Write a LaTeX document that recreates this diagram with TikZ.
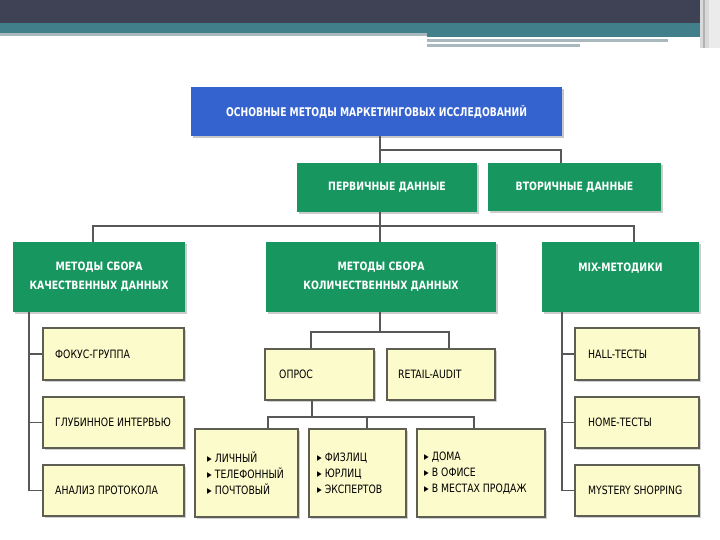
\documentclass[tikz,border=0pt]{standalone}
\usepackage{fontspec}
\setmainfont{DejaVu Sans Condensed}
\newfontfamily\hdrfont{DejaVu Sans Condensed}[FakeStretch=0.85]
\newfontfamily\grnfont{DejaVu Sans Condensed}[FakeStretch=0.9]
\newfontfamily\yelfont{DejaVu Sans Condensed}[FakeStretch=0.9]
\usetikzlibrary{shadows}
\definecolor{hdark}{HTML}{3E4254}
\definecolor{hteal}{HTML}{41808A}
\definecolor{hgrey}{HTML}{A8B8BC}
\definecolor{cblue}{HTML}{3462CF}
\definecolor{cgreen}{HTML}{17975F}
\definecolor{cyel}{HTML}{FCFBCB}
\definecolor{cline}{HTML}{585858}
\definecolor{cbord}{HTML}{5E5E52}
\tikzset{
  bluebox/.style={fill=cblue, minimum width=#1, inner sep=0pt,
    drop shadow={shadow xshift=2pt, shadow yshift=-2pt, fill=black!22, opacity=1},
    text=white, font=\hdrfont\bfseries\fontsize{12}{14}\selectfont},
  greenbox/.style={fill=cgreen, minimum width=#1, inner sep=0pt, align=center,
    drop shadow={shadow xshift=2pt, shadow yshift=-2pt, fill=black!20, opacity=1},
    text=white, font=\grnfont\bfseries\fontsize{11.5}{19}\selectfont},
  yelbox/.style={fill=cyel, draw=cbord, line width=1.1pt, minimum width=#1, inner sep=0pt,
    drop shadow={shadow xshift=2pt, shadow yshift=-2pt, fill=black!18, opacity=1}},
  ytext/.style={anchor=west, align=left, inner sep=0pt, font=\yelfont\fontsize{11.5}{16}\selectfont},
  conn/.style={draw=cline, line width=1.4pt},
}
\begin{document}
\begin{tikzpicture}[x=1pt,y=-1pt]
\useasboundingbox (0,0) rectangle (720,540);
% header band
\fill[hdark] (0,0) rectangle (700,23);
\fill[hteal] (0,23) rectangle (700,33);
\fill[hgrey] (0,33) rectangle (427,36);
\fill[hteal] (427,33) rectangle (700,37);
\fill[hgrey] (427,39.5) rectangle (668,42.5);
\fill[hgrey] (427,44) rectangle (580,47);
\fill[black!15] (700,0) rectangle (720,48);
\fill[black!30] (703,0) rectangle (705,48);
\fill[black!8] (709,0) rectangle (720,48);

% level 1/2
\node[bluebox=371pt, minimum height=49pt] (top) at (376.5,111.5) {ОСНОВНЫЕ МЕТОДЫ МАРКЕТИНГОВЫХ ИССЛЕДОВАНИЙ};
\node[greenbox=180pt, minimum height=49pt] (prim) at (387,187.5) {ПЕРВИЧНЫЕ ДАННЫЕ};
\node[greenbox=173pt, minimum height=48pt] (sec) at (574.5,187) {ВТОРИЧНЫЕ ДАННЫЕ};

% level 3
\node[greenbox=172pt, minimum height=70pt] (qual) at (99,277) {МЕТОДЫ СБОРА\\КАЧЕСТВЕННЫХ ДАННЫХ};
\node[greenbox=230pt, minimum height=70pt] (quant) at (381,277) {МЕТОДЫ СБОРА\\КОЛИЧЕСТВЕННЫХ ДАННЫХ};
\node[greenbox=157pt, minimum height=70pt] (mix) at (620.5,277) {};
\node[text=white, font=\grnfont\bfseries\fontsize{11.5}{19}\selectfont, inner sep=0pt] (mixt) at (620.5,268) {MIX-МЕТОДИКИ};

% left column
\node[yelbox=141pt, minimum height=52pt] (l1) at (113.5,354) {};
\node[yelbox=141pt, minimum height=51pt] (l2) at (113.5,422.5) {};
\node[yelbox=141pt, minimum height=51pt] (l3) at (113.5,490.5) {};
\node[ytext] (l1t) at (55,354) {ФОКУС-ГРУППА};
\node[ytext] (l2t) at (55,422.5) {ГЛУБИННОЕ ИНТЕРВЬЮ};
\node[ytext] (l3t) at (55,490.5) {АНАЛИЗ ПРОТОКОЛА};

% right column
\node[yelbox=124pt, minimum height=52pt] (r1) at (637,354) {};
\node[yelbox=124pt, minimum height=51pt] (r2) at (637,422.5) {};
\node[yelbox=124pt, minimum height=51pt] (r3) at (637,490.5) {};
\node[ytext] (r1t) at (588,354) {HALL-ТЕСТЫ};
\node[ytext] (r2t) at (588,422.5) {HOME-ТЕСТЫ};
\node[ytext] (r3t) at (588,490.5) {MYSTERY SHOPPING};

% middle
\node[yelbox=109pt, minimum height=51pt] (opros) at (319.5,374.5) {};
\node[yelbox=108pt, minimum height=51pt] (retail) at (441,374.5) {};
\node[ytext] (oprost) at (279,374.5) {ОПРОС};
\node[ytext] (retailt) at (398,374.5) {RETAIL-AUDIT};

\node[yelbox=103pt, minimum height=88pt] (b1) at (246.5,473) {};
\node[yelbox=97pt, minimum height=88pt] (b2) at (357.5,473) {};
\node[yelbox=128pt, minimum height=88pt] (b3) at (481,473) {};
\node[ytext] (b1t) at (207,473) {▸ ЛИЧНЫЙ\\▸ ТЕЛЕФОННЫЙ\\▸ ПОЧТОВЫЙ};
\node[ytext] (b2t) at (317,473) {▸ ФИЗЛИЦ\\▸ ЮРЛИЦ\\▸ ЭКСПЕРТОВ};
\node[ytext] (b3t) at (424,473) {▸ ДОМА\\▸ В ОФИСЕ\\▸ В МЕСТАХ ПРОДАЖ};

% connectors
\coordinate (j1) at (380,150);
\coordinate (j1r) at (561,150);
\draw[conn] (j1 |- top.south) -- (j1 |- prim.north);
\draw[conn] (j1) -- (j1r) -- (j1r |- sec.north);

\coordinate (j2) at (380,226);
\coordinate (j2l) at (93,226);
\coordinate (j2r) at (634,226);
\draw[conn] (j2 |- prim.south) -- (j2 |- quant.north);
\draw[conn] (j2l |- qual.north) -- (j2l) -- (j2r) -- (j2r |- mix.north);

\coordinate (cl) at (29,312);
\draw[conn] (cl |- qual.south) -- (cl |- l3.west) -- (l3.west);
\draw[conn] (cl |- l1.west) -- (l1.west);
\draw[conn] (cl |- l2.west) -- (l2.west);

\coordinate (cr) at (562,312);
\draw[conn] (cr |- mix.south) -- (cr |- r3.west) -- (r3.west);
\draw[conn] (cr |- r1.west) -- (r1.west);
\draw[conn] (cr |- r2.west) -- (r2.west);

\coordinate (j3) at (380,332);
\coordinate (j3l) at (311,332);
\coordinate (j3r) at (449,332);
\draw[conn] (j3 |- quant.south) -- (j3);
\draw[conn] (j3l |- opros.north) -- (j3l) -- (j3r) -- (j3r |- retail.north);

\coordinate (j4) at (312,417);
\coordinate (j4l) at (268,417);
\coordinate (j4m) at (367,417);
\coordinate (j4r) at (474,417);
\draw[conn] (j4 |- opros.south) -- (j4);
\draw[conn] (j4l |- b1.north) -- (j4l) -- (j4r) -- (j4r |- b3.north);
\draw[conn] (j4m) -- (j4m |- b2.north);
\end{tikzpicture}
\end{document}
